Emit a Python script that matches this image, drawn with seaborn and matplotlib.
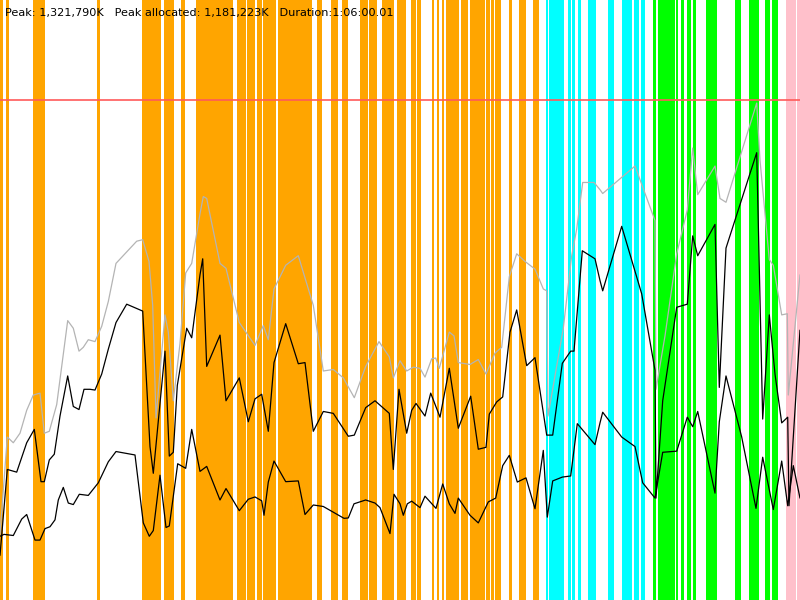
import matplotlib
matplotlib.use("Agg")
import matplotlib.pyplot as plt
import seaborn as sns
import pandas as pd

sns.set_theme(style="white")
plt.rcParams['font.family'] = ['DejaVu Sans']

# memory values in thousands of K, time in sample units (0-800)
peak_k = 1321.79
peak_alloc_k = 1181.223
duration = "1:06:00.01"

heap_t = [0, 7.3, 13.3, 20, 26.7, 33.3, 40, 44.3, 49.3, 56.7,
          61.7, 67.7, 73.3, 79, 83.3, 88.3, 95, 101.7, 108.3, 116,
          126.7, 136.7, 142.7, 149, 152.7, 156, 165, 168.3, 173.3, 180,
          185.7, 191.7, 200, 203.3, 206.7, 220, 226, 239.3, 255, 263.3,
          268.3, 274, 285.7, 298.3, 313.3, 323.3, 333.3, 343.3, 354.3, 365.7,
          379, 389.3, 393.3, 400, 406.7, 413.3, 420, 425, 431.7, 435.7,
          439.3, 449.3, 454, 458.3, 470, 478.3, 486, 495, 501.7, 509.3,
          516.7, 525, 535, 543.3, 546.7, 548, 563.3, 571.7, 576.7, 582.7,
          594, 600, 602.7, 635, 655, 656, 665, 676.7, 687.3, 692.7,
          697.7, 715, 720, 726, 756.7, 760, 769.3, 773.3, 781.7, 787.3,
          788.3, 800]
heap_k = [173.5, 430.8, 415.7, 440.9, 501.5, 541.8, 546.9, 440.9, 446.0, 516.6,
          617.5, 738.6, 718.4, 657.9, 668.0, 688.1, 683.1, 723.5, 789.0, 889.9,
          920.2, 948.5, 952.5, 895.0, 779.0, 481.3, 753.7, 708.3, 526.7, 678.0,
          864.7, 889.9, 1021.1, 1066.5, 1061.5, 889.9, 876.8, 733.5, 673.0, 725.5,
          688.1, 822.3, 884.9, 910.1, 779.0, 605.4, 609.4, 587.2, 534.8, 617.5,
          683.1, 642.7, 587.2, 632.6, 605.4, 615.5, 612.5, 589.3, 637.7, 639.7,
          612.5, 708.3, 698.2, 627.6, 622.6, 635.7, 597.3, 652.8, 668.0, 854.6,
          915.2, 895.0, 874.8, 822.3, 817.3, 486.3, 718.4, 910.1, 980.7, 1103.8,
          1103.8, 1084.7, 1074.6, 1147.2, 1003.0, 557.0, 698.2, 915.2, 1031.2, 1194.7,
          1071.6, 1147.2, 1061.5, 1051.4, 1313.7, 1162.4, 900.0, 884.9, 753.7, 756.8,
          541.8, 859.7]

alloc_t = [0, 7.3, 16.7, 26.7, 34.3, 41, 44.3, 49.3, 54.3, 60,
           67.7, 73.3, 79, 84, 90, 95, 101.7, 108.3, 116, 126.7,
           142.7, 150, 153.3, 165, 169.3, 173.3, 177.3, 186.7, 191.7, 200,
           202.7, 206.7, 220, 226, 239.3, 248.3, 255, 261.7, 268.3, 274,
           285.7, 298.3, 305, 313.3, 323.3, 333.3, 348.3, 354.3, 365.7, 375,
           389.3, 393.3, 399, 406.7, 411.7, 416, 425, 430.7, 440, 449.3,
           458.3, 470.7, 478.3, 486, 489.3, 496.7, 502.7, 510, 516.7, 526.7,
           535, 546.7, 552.7, 562.3, 570.7, 574, 582.3, 595, 600, 602.7,
           621.7, 641.7, 655, 656, 662.7, 676.7, 687.3, 692.7, 697.7, 715,
           719.3, 726, 756.7, 762.7, 769.3, 775, 781.7, 787.7, 789, 800]
alloc_k = [118.0, 345.1, 338.0, 415.7, 451.0, 312.8, 312.8, 370.3, 385.4, 486.3,
           592.3, 511.6, 503.5, 557.0, 557.0, 555.0, 597.3, 663.0, 733.5, 782.0,
           763.8, 405.6, 335.0, 657.9, 380.4, 390.5, 567.1, 718.4, 693.2, 859.7,
           902.0, 617.5, 700.2, 526.7, 587.2, 471.2, 531.7, 543.9, 446.0, 627.6,
           730.5, 624.6, 627.6, 446.0, 498.4, 493.4, 432.9, 435.9, 508.5, 526.7,
           493.4, 345.1, 557.0, 440.9, 501.5, 519.6, 486.3, 546.9, 483.3, 612.5,
           454.0, 538.8, 398.6, 403.6, 491.4, 523.7, 536.8, 708.3, 766.8, 619.5,
           640.7, 435.9, 435.9, 625.6, 657.9, 657.9, 923.2, 902.0, 844.5, 817.3,
           987.8, 809.2, 607.4, 269.4, 526.7, 773.9, 782.0, 962.6, 910.1, 992.9,
           562.0, 930.3, 1182.5, 478.3, 753.7, 597.3, 468.2, 483.3, 249.2, 713.4]

used_t = [0, 4, 13.3, 21.7, 26.7, 35, 40, 45, 50, 55,
          58.3, 63.3, 68.3, 73.3, 79.3, 88.3, 98.3, 108.3, 116, 135,
          143.3, 149.3, 153.3, 160, 166, 169.3, 177.7, 185.7, 191.7, 200,
          206.7, 220, 226, 239.3, 248.3, 255, 261.7, 264, 268.3, 274,
          285.7, 298.3, 305, 313.3, 323.3, 333.3, 344, 348.3, 354, 365.7,
          375, 380, 390, 394, 400, 403.3, 407.3, 411.7, 420, 425,
          436, 442.7, 449.3, 455, 458.3, 470, 478.3, 488.3, 495.7, 502.7,
          509.3, 517.3, 526, 535, 543.3, 547.3, 552.7, 562.3, 570.7, 577.3,
          595, 600, 602.7, 621.7, 635, 642.7, 655, 662.7, 676.7, 687.3,
          692.7, 697.7, 715, 719.3, 726, 741.7, 756, 762.7, 773.3, 781.7,
          787.7, 793.3, 800]
used_k = [168.5, 173.5, 170.5, 213.9, 226.0, 158.4, 158.4, 188.7, 193.7, 211.9,
          264.4, 297.7, 256.3, 252.3, 279.5, 276.5, 309.8, 365.3, 392.5, 383.4,
          203.8, 168.5, 183.6, 329.9, 191.7, 195.7, 360.2, 348.1, 451.0, 340.0,
          353.2, 264.4, 294.6, 236.1, 266.4, 272.4, 262.3, 224.0, 311.8, 367.3,
          312.8, 314.8, 226.0, 251.2, 247.2, 232.1, 215.9, 216.9, 254.3, 264.4,
          256.3, 244.2, 175.6, 279.5, 254.3, 224.0, 254.3, 261.3, 244.2, 274.4,
          242.2, 306.7, 254.3, 229.0, 269.4, 224.0, 203.8, 259.3, 269.4, 355.2,
          382.4, 311.8, 322.9, 241.2, 395.5, 219.0, 314.8, 324.9, 327.9, 466.2,
          410.7, 468.2, 496.4, 430.8, 405.6, 309.8, 269.4, 390.5, 393.5, 483.3,
          458.1, 498.4, 282.5, 471.2, 592.3, 430.8, 242.2, 377.4, 239.1, 367.3,
          249.2, 355.2, 269.4]

# event periods (start, end) in the same time units
orange_start = [0, 6, 33, 97, 142, 147, 149, 152, 157, 164, 181, 196, 200, 218, 224,
                231, 237, 241, 247, 257, 263, 278, 309, 317, 331, 342, 360, 363, 369,
                382, 384, 388, 397, 400, 411, 417, 432, 437, 442, 446, 452, 461, 470,
                478, 486, 491, 495, 509, 519, 522, 533]
orange_end = [2.5, 8.5, 44.5, 99.5, 146.5, 148.5, 151.5, 156.5, 160.5, 173.5, 184.5, 199.5,
              217.5, 223.5, 230.5, 232.5, 240.5, 245.5, 254.5, 261.5, 275.5, 308.5, 311.5,
              321.5, 337.5, 347.5, 362.5, 367.5, 376.5, 383.5, 387.5, 393.5, 399.5, 405.5,
              415.5, 420.5, 433.5, 438.5, 443.5, 451.5, 458.5, 467.5, 477.5, 484.5, 489.5,
              493.5, 500.5, 511.5, 521.5, 525.5, 538.5]
cyan_start = [546, 549, 561, 568, 572, 578, 588, 608, 622, 629, 634, 641]
cyan_end = [547.5, 560.5, 563.5, 570.5, 574.5, 580.5, 595.5, 613.5, 628.5, 631.5, 638.5, 644.5]
green_start = [653, 658, 672, 676, 681, 687, 693, 706, 713, 735, 749, 765, 772]
green_end = [655.5, 671.5, 674.5, 677.5, 683.5, 690.5, 695.5, 712.5, 716.5, 740.5, 758.5,
             769.5, 777.5]
pink_start = [786, 789, 793, 797]
pink_end = [788.5, 792.5, 795.5, 800]

fig = plt.figure(figsize=(8, 6), dpi=100)
ax = fig.add_axes([0, 0, 1, 1])

for starts, ends, col in [(orange_start, orange_end, "#ffa500"),
                          (cyan_start, cyan_end, "#00ffff"),
                          (green_start, green_end, "#00ff00"),
                          (pink_start, pink_end, "#ffc0cb")]:
    for s, e in zip(starts, ends):
        ax.axvspan(s, e, color=col, lw=0, zorder=1)

heap = pd.DataFrame({"t": heap_t, "k": heap_k})
alloc = pd.DataFrame({"t": alloc_t, "k": alloc_k})
used = pd.DataFrame({"t": used_t, "k": used_k})

sns.lineplot(data=heap, x="t", y="k", color="#b4b4b4", lw=0.9,
             estimator=None, sort=False, ax=ax, zorder=3)
sns.lineplot(data=alloc, x="t", y="k", color="black", lw=0.9,
             estimator=None, sort=False, ax=ax, zorder=3)
sns.lineplot(data=used, x="t", y="k", color="black", lw=0.9,
             estimator=None, sort=False, ax=ax, zorder=3)

ax.axhline(peak_k, color="#ff5a5a", lw=1.2, zorder=4)

ax.set_xlim(0, 800)
ax.set_ylim(0, peak_k * 1.2)
ax.set_axis_off()

ax.text(5 / 800, 1 - 13 / 600,
        f"Peak: {peak_k * 1000:,.0f}K   Peak allocated: {peak_alloc_k * 1000:,.0f}K   Duration:{duration}",
        transform=ax.transAxes, fontsize=8.1, va="center", ha="left", color="black", zorder=5)

fig.savefig("out.png", dpi=100)
